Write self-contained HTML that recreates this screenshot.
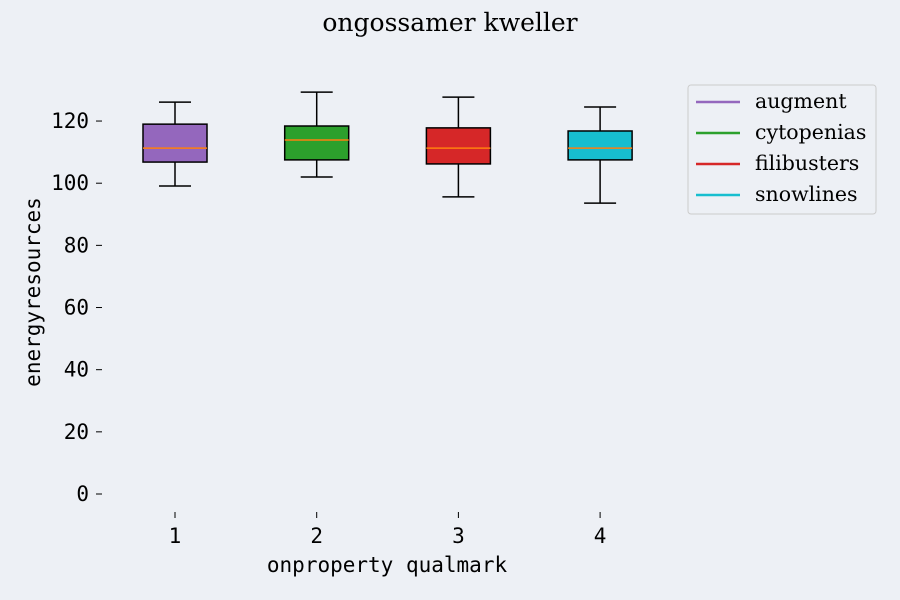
<!DOCTYPE html>
<html><head><meta charset="utf-8"><style>
body{margin:0;background:#edf0f5;}
svg{display:block}
.m{font-family:"DejaVu Sans Mono","Liberation Mono",monospace;font-size:21px;fill:#000}
.s{font-family:"DejaVu Serif","Liberation Serif",serif;fill:#000}
</style></head><body>
<svg id="c" width="900" height="600">
<rect width="900" height="600" fill="#edf0f5"/>
<text class="s" x="450" y="31" font-size="25" text-anchor="middle">ongossamer kweller</text>
<text class="m" x="387" y="572" text-anchor="middle">onproperty qualmark</text>
<text class="m" transform="translate(40,292) rotate(-90)" text-anchor="middle">energyresources</text>
<g id="axes"></g><g id="boxes"></g>
<g>
<rect x="688" y="85" width="188" height="129" rx="3" fill="#edf0f5" stroke="#ccc"/>
<g id="leg"></g></g>
</svg>
<script>
const categories=["1","2","3","4"];
const names=["augment","cytopenias","filibusters","snowlines"];
const colors=["#9467bd","#2ca02c","#d62728","#17becf"];
const whiskLo=[99.1,102.0,95.6,93.6];
const q1=[106.8,107.5,106.2,107.5];
const med=[111.3,113.9,111.3,111.3];
const q3=[119.0,118.4,117.8,116.8];
const whiskHi=[126.1,129.3,127.7,124.5];
const yTicks=[0,20,40,60,80,100,120];
const NS="http://www.w3.org/2000/svg";
const y=v=>494-v*3.108;
const x=i=>175+i*141.7;
function mk(t,a,p){const e=document.createElementNS(NS,t);for(const k in a)e.setAttribute(k,a[k]);p.appendChild(e);return e;}
const ax=document.getElementById('axes');
yTicks.forEach(v=>{
 const t=mk('text',{class:'m',x:89,y:y(v)+7,'text-anchor':'end'},ax);t.textContent=v;
 
 
 mk('line',{x1:96,x2:102,y1:y(v),y2:y(v),stroke:'#000'},ax);
});
categories.forEach((c,i)=>{
 mk('line',{x1:x(i),x2:x(i),y1:512,y2:518,stroke:'#000'},ax);
 const t=mk('text',{class:'m',x:x(i),y:543,'text-anchor':'middle'},ax);t.textContent=c;
 
 
});
const bx=document.getElementById('boxes');
categories.forEach((c,i)=>{
 const g=mk('g',{},bx);
 
 
 const X=x(i),w=32,cw=16;
 mk('line',{x1:X,x2:X,y1:y(whiskHi[i]),y2:y(q3[i]),stroke:'#000','stroke-width':1.5},g);
 mk('line',{x1:X,x2:X,y1:y(q1[i]),y2:y(whiskLo[i]),stroke:'#000','stroke-width':1.5},g);
 mk('line',{x1:X-cw,x2:X+cw,y1:y(whiskHi[i]),y2:y(whiskHi[i]),stroke:'#000','stroke-width':1.5},g);
 mk('line',{x1:X-cw,x2:X+cw,y1:y(whiskLo[i]),y2:y(whiskLo[i]),stroke:'#000','stroke-width':1.5},g);
 mk('rect',{x:X-w,y:y(q3[i]),width:2*w,height:y(q1[i])-y(q3[i]),fill:colors[i],stroke:'#000','stroke-width':1.5},g);
 mk('line',{x1:X-w,x2:X+w,y1:y(med[i]),y2:y(med[i]),stroke:'#ff7f0e','stroke-width':1.5},g);
});
const lg=document.getElementById('leg');
names.forEach((n,i)=>{
 const yy=102+i*31;
 mk('line',{x1:696,x2:740,y1:yy,y2:yy,stroke:colors[i],'stroke-width':2.5},lg);
 const t=mk('text',{class:'s',x:755,y:yy+6,'font-size':'20.5'},lg);t.textContent=n;
 
 
});
</script>
</body></html>
